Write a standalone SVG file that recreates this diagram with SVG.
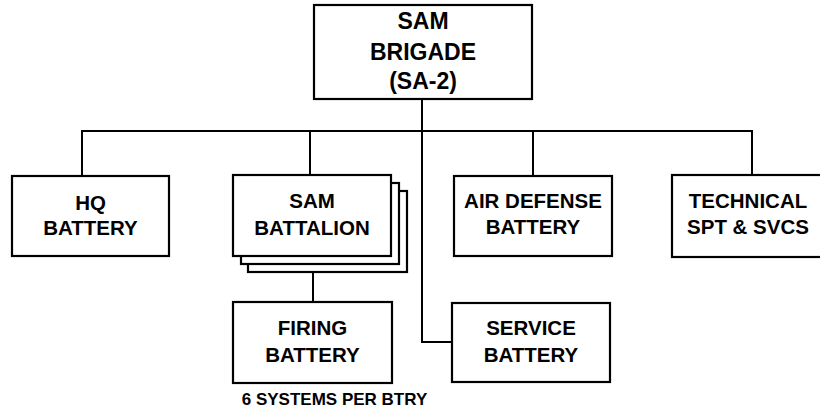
<svg xmlns="http://www.w3.org/2000/svg" width="820" height="411" viewBox="0 0 820 411">
<style>
.box{fill:#fff;stroke:#000;stroke-width:2.2}
.ln{fill:none;stroke:#000;stroke-width:2}
text{font-family:"Liberation Sans",Arial,sans-serif;font-weight:bold;fill:#000;text-anchor:middle}
.t{font-size:20.5px}
.h{font-size:23px}
.n{font-size:17px}
</style>
<rect width="820" height="411" fill="#fff"/>
<g id="connectors">
<path class="ln" d="M82,176 V131 H752 V175"/>
<path class="ln" d="M422,99 V342 H452"/>
<path class="ln" d="M310,131 V175"/>
<path class="ln" d="M533,131 V176"/>
<path class="ln" d="M313,272 V302"/>
</g>
<g id="brigade">
<rect class="box" x="314" y="5" width="218" height="94"/>
<text class="h" x="423" y="29">SAM</text>
<text class="h" x="423" y="60">BRIGADE</text>
<text class="h" x="423" y="89">(SA-2)</text>
</g>
<g id="hq">
<rect class="box" x="12" y="176" width="157" height="80"/>
<text class="t" x="90.5" y="210">HQ</text>
<text class="t" x="90.5" y="235">BATTERY</text>
</g>
<g id="sam-battalion">
<rect class="box" x="248" y="191" width="159" height="81"/>
<rect class="box" x="241" y="183" width="158" height="81"/>
<rect class="box" x="233" y="175" width="158" height="81"/>
<text class="t" x="312" y="208">SAM</text>
<text class="t" x="312" y="235">BATTALION</text>
</g>
<g id="air-defense">
<rect class="box" x="454" y="176" width="158" height="80"/>
<text class="t" x="533" y="208">AIR DEFENSE</text>
<text class="t" x="533" y="234">BATTERY</text>
</g>
<g id="technical">
<rect class="box" x="672" y="175" width="158" height="82"/>
<text class="t" x="748" y="208">TECHNICAL</text>
<text class="t" x="748" y="234">SPT &amp; SVCS</text>
</g>
<g id="firing">
<rect class="box" x="233" y="302" width="159" height="81"/>
<text class="t" x="312.5" y="335">FIRING</text>
<text class="t" x="312.5" y="362">BATTERY</text>
<text class="n" x="334.5" y="405">6 SYSTEMS PER BTRY</text>
</g>
<g id="service">
<rect class="box" x="452" y="303" width="158" height="79"/>
<text class="t" x="531" y="335">SERVICE</text>
<text class="t" x="531" y="362">BATTERY</text>
</g>
</svg>
